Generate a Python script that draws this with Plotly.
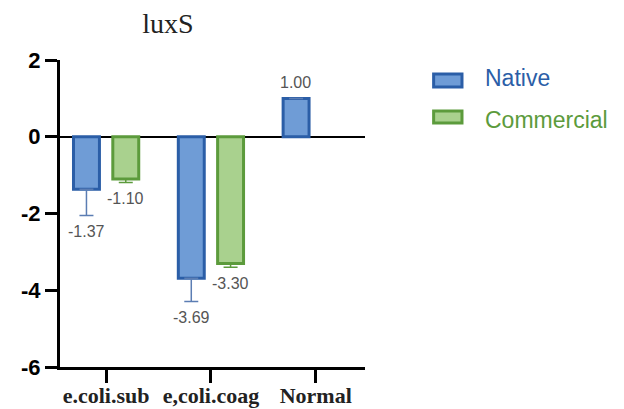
import plotly.graph_objects as go

categories = ["e.coli.sub", "e,coli.coag", "Normal"]
native_vals = [-1.37, -3.69, 1.00]
commercial_vals = [-1.10, -3.30, None]
native_err_minus = [0.68, 0.60, None]
commercial_err_minus = [0.09, 0.10, None]
ytick_vals = [2, 0, -2, -4, -6]
ytick_text = ["2", "0", "-2", "-4", "-6"]
series_names = ["Native", "Commercial"]

BLUE_LINE = "#2b5ea7"
BLUE_FILL = "#6f9cd6"
GREEN_LINE = "#5c9b3c"
GREEN_FILL = "#a9d18e"

W, H = 616, 401  # page body has an 8px offset

fig = go.Figure()
fig.add_trace(go.Bar(
    x=categories, y=native_vals, name=series_names[0],
    marker=dict(color=BLUE_FILL, line=dict(color=BLUE_LINE, width=3)),
    error_y=dict(type="data", symmetric=False,
                 array=[0 if v is not None else None for v in native_err_minus],
                 arrayminus=native_err_minus, color="#5b7db3", thickness=1.5, width=7),
    showlegend=False,
))
fig.add_trace(go.Bar(
    x=categories, y=commercial_vals, name=series_names[1],
    marker=dict(color=GREEN_FILL, line=dict(color=GREEN_LINE, width=3)),
    error_y=dict(type="data", symmetric=False,
                 array=[0 if v is not None else None for v in commercial_err_minus],
                 arrayminus=commercial_err_minus, color="#5c9b3c", thickness=1.5, width=7),
    showlegend=False,
))

# value labels
annotations = []
for vals, errs, shift in [(native_vals, native_err_minus, -19.75), (commercial_vals, commercial_err_minus, 19.75)]:
    for c, v, e in zip(categories, vals, errs):
        if v is None:
            continue
        if v < 0:
            y = v - (e or 0)
            ys = -16
        else:
            y = v
            ys = 16
        annotations.append(dict(x=c, y=y, xref="x", yref="y", text=f"{v:.2f}", showarrow=False,
                                xshift=shift, yshift=ys,
                                font=dict(family="Arial, Liberation Sans", size=16, color="#555555")))

# custom legend
shapes = []
legend_items = [(series_names[0], BLUE_FILL, BLUE_LINE, 0.954, 0.912, 0.941),
                (series_names[1], GREEN_FILL, GREEN_LINE, 0.834, 0.795, 0.805)]
for name, fill, line, y1, y0, ty in legend_items:
    shapes.append(dict(type="rect", xref="paper", yref="paper", x0=1.225, x1=1.318, y0=y0, y1=y1,
                       fillcolor=fill, line=dict(color=line, width=3)))
    annotations.append(dict(x=1.387, y=ty, xref="paper", yref="paper", text=name, showarrow=False,
                            xanchor="left", yanchor="middle",
                            font=dict(family="Arial, Liberation Sans", size=23, color=line)))

fig.update_layout(
    width=W, height=H,
    margin=dict(l=52, r=259, t=52, b=42),
    paper_bgcolor="white", plot_bgcolor="white",
    barmode="group", bargap=0.25, bargroupgap=0.34,
    title=dict(text="luxS", x=160 / W, xanchor="center", y=1 - 15 / H, yanchor="middle",
               font=dict(family="Liberation Serif, Times New Roman", size=28, color="#222222")),
    annotations=annotations, shapes=shapes,
    xaxis=dict(range=[-0.44, 2.47], showline=True, linewidth=3, linecolor="black", automargin=False,
               ticks="outside", ticklen=13, tickwidth=3, tickcolor="black", showgrid=False,
               ticklabelstandoff=-6,
               tickfont=dict(family="Liberation Serif, Times New Roman", size=22, color="#222222",
                             weight="bold"),
               zeroline=False),
    yaxis=dict(range=[-6, 2], tickvals=ytick_vals, ticktext=ytick_text, showline=True, linewidth=3,
               linecolor="black", ticks="outside", ticklen=12, tickwidth=3, tickcolor="black",
               automargin=False,
               showgrid=False, zeroline=True, zerolinecolor="black", zerolinewidth=2,
               tickfont=dict(family="Arial, Liberation Sans", size=22, color="black", weight="bold")),
)

fig.write_html("out.html")
